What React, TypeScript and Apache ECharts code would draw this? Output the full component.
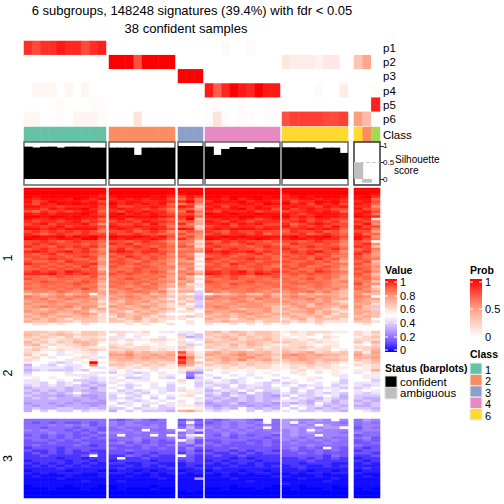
import React, { useEffect, useRef } from "react";
import * as echarts from "echarts";

const titleLines = ["6 subgroups, 148248 signatures (39.4%) with fdr < 0.05", "38 confident samples"];
const groupSizes = [10, 8, 3, 9, 8, 3];
const sliceNames = ["1", "2", "3"];
const probNames = ["p1", "p2", "p3", "p4", "p5", "p6"];
const classColors: Record<string, string> = { "1": "#66C2A5", "2": "#FC8D62", "3": "#8DA0CB", "4": "#E78AC3", "5": "#A6D854", "6": "#FFD92F" };
const sampleClasses = [
  [1,1,1,1,1,1,1,1,1,1],
  [2,2,2,2,2,2,2,2],
  [3,3,3],
  [4,4,4,4,4,4,4,4,4],
  [6,6,6,6,6,6,6,6],
  [6,2,5],
];
const silhouette = [
  [0.98,0.95,0.98,0.98,0.95,0.98,0.98,0.98,0.95,0.95],
  [0.95,0.95,0.95,0.73,0.95,0.95,0.95,0.95],
  [1,1,1],
  [0.98,0.73,0.91,0.97,0.97,0.91,0.96,0.96,0.96],
  [0.96,0.96,0.96,0.96,0.92,0.95,0.95,0.79],
  [0.5,-0.11,0],
];
const prob1 = [[.85,.77,.85,.85,.92,.87,.87,.77,.85,.9],[0,0,0,0,0,0,0,0],[0,0,0],[0,0,.03,0,0,.03,0,0,0],[0,0,0,0,0,0,0,0],[0,0,0]];
const prob2 = [[0,0,0,0,0,0,0,0,0,0],[1,1,1,.75,1,1,1,1],[0,0,0],[0,0,0,0,0,0,0,0,0],[.13,.1,.1,.1,.06,.12,.12,0],[.3,.45,0]];
const prob3 = [[0,0,0,0,0,0,0,0,0,0],[0,0,0,0,0,0,0,0],[1,1,1],[0,0,0,0,0,0,0,0,0],[0,0,0,0,0,0,0,0],[0,0,0]];
const prob4 = [[0,.05,.05,.05,0,.05,0,.05,0,0],[0,0,0,0,0,0,0,0],[0,0,0],[.92,.7,.88,1,.92,.88,1,.92,.92],[0,0,0,0,.03,0,0,.1],[0,0,.02]];
const prob5 = [[0,0,0,0,.02,0,0,0,.02,.02],[0,0,0,0,0,0,0,0],[0,0,0],[.02,.02,0,0,.02,0,0,.02,.02],[0,0,0,0,0,0,0,0],[0,0,.9]];
const prob6 = [[.05,.05,0,0,.02,0,.05,.05,.05,.02],[0,0,0,.15,0,0,0,0],[0,0,0],[.02,.15,.02,0,.02,.02,0,.02,.02],[.75,.8,.8,.8,.8,.77,.77,.8],[.5,.35,0]];
const probRows = [prob1, prob2, prob3, prob4, prob5, prob6];

// Each letter below is a level; these tables give the Value read for each level, slice by slice.
const levelChars = "0123456789ABCDEFGHIJK";
const sliceOneLevels = [0,.05,.1,.15,.2,.25,.3,.35,.4,.45,.5,.58,.66,.73,.78,.83,.87,.91,.95,.98,1];
const sliceTwoLevels = [0,.05,.1,.15,.2,.22,.27,.32,.38,.44,.5,.55,.6,.65,.7,.75,.8,.85,.9,.95,1];
const sliceThreeLevels = [0,.02,.05,.09,.14,.19,.23,.28,.36,.44,.5,.55,.6,.65,.7,.75,.8,.85,.9,.95,1];
const sliceOneRows = [
  "KKKKKKKKKK KKKKKKKK KKK KKKKKKKKK KKKKKKKK KKK",
  "KKKKKKKKKK KKKKKKKK KKK KKKKKKKKK KKKKKKKK KKK",
  "KKKKKKKKKJ KKKKKKKJ JKK KKKKKKKKK JKKKKKKK KKJ",
  "KJKKKKKKJI JKKKKJKI HJI KKJKKKKJK IJKJKKKJ JKI",
  "JIJJJIKJIJ IJIJIJJH GIF JJIKIJKJJ IIJJIJJI JJG",
  "JHIKJJJIJH JIJJIIJI IKG IKJJKIJJI JHIIKJKI IJH",
  "IHJIKJKJJI KIJIJIJG FHE JIIIJJIKJ KIJHJIJH JIG",
  "JJIIHIIIJH JHHIIJIH JIC IJHJIIJII IJIIHJIJ IIE",
  "IIHJIJJKIH IJIIHIHF HGD JIIJKIJJH JHIJIIHH JHG",
  "HGIHIHIJJG IHJIJIIG GJF IHJIIJHII HIIJIJIG IJH",
  "JIJIJJJKIH JKIJIJIH HHE KJJKJJKJJ JIHIJJJI JIF",
  "KKJKKJKJJI KJKJJKJI IJG JKJJKKJJK KIJIKJJI KJI",
  "JIIJIJJIIG IJHIIIHG HKC IIJIJIHIJ IHIHIIHH HIB",
  "IHIIHIJHIH HIIHJIIH GHD JIHJIHIII HIJHIHIG IHF",
  "HIJHIIIJHE IHHIHJHG IFD IIJHJIJHH IGHIJIHH HJE",
  "IIHIJHIIIH JIIJIIIF GGB HIIHIIHII JHIHIHJH JHH",
  "JJIJIJJJJG IJIHIJIH JIC IJIJJJIJI HIIJIJIG IIF",
  "HIHIHIHIHF HHIGHIHE FHF IHGIHHIHH GIHHIGHF HHD",
  "IHGHIHHIHH IHHIHHGG HFE HIHIIHIGH HHIGHIHG IGG",
  "JKJJKIKJKI KJJKJIJH GHE JJKJKJJJJ JKIJJKIH JIE",
  "KJJIJJIKKH JIJIIJIG IGD KJIJIJKJI IJJIJIIG JHF",
  "HHIHGHIHHG HHGHIHGE FFB HGIHIHHGH HHGHIHHF HGA",
  "HIHIHHHGHF IHIGHHHF GEC IHHGHIHHG GIHHGHGE HIE",
  "IHHGIHIHIG GHHIHGHG HGB HIHHHGHIH HGHIHHHF IHC",
  "GHIHHGHIGE HIGHHIGF EFD IGHIHHGHH IHGHGHIG GHF",
  "IJIHIJHIHF IJIHIIHG GGE JIJIIJHIH HIHIJHHE HIE",
  "HGHIGHHHGF GHHGHGHE FEA HHIHGHIGH GHHIGHGF IGD",
  "HHGHHGHIHE HGIHGHGF GFB GHHGHHGHG HGHGHHFF HFE",
  "GHHIHHGGHD GHGHGHGE EGA IHGHHIHHG GHHGIGHE HGF",
  "HGGHGIHHGE HHGFHGFE EDB HGHGHHGHH HGGHGHFD GHC",
  "IHHGHGHHIE GHGHGFGD FFA GHGIHGHHG GGHHGFGF HFD",
  "GHGHGHGIGD HGFGHGFF EEB HHGHGHHGF HGHFGHGE GGE",
  "GGHGHGHGHC GFGHGGFE DFA HGHHGGHGH GHFGHGFD HGD",
  "HIHIHJIHHE GHGHGHGD FEC IIHIJHIHI HGHGIHGF GHE",
  "IIIJHIHIHF HGHGFGFE EGD JIHIIHJIH GHGHGGFE HFC",
  "GGFGHGGFHD GFGFGFGD ECA GHGHGFGGH FGFGFGFD GGD",
  "HGGFGGFGGE FGHGFGED FDB GFGHGGGFG GFGHFGED FGE",
  "FGHGGFGHGD GGFGGFFE DEA HGGFGHGGF GGFGGFEF GFC",
  "GFGGFGHGFC FGFGEGEC EBB GGFHGGFGG FGGFGFED HEE",
  "FFGFGFGFGD GFEFGFED DC9 FGFGFFGFG GFEFGFEE FFB",
  "GFFGFGFHFC EFGEFFDB CCA FFGFFGFFE FGFEFEFD GEC",
  "EFFEGFEFFD FEFGFEFC DD8 GFEFFGFEF EFFGEFDC EFD",
  "CDCDECDEAD EDEDECDB BA8 ACCDECCEC DECDCDDC ECC",
  "FEDEFEFFDC DEFEDEDC CC7 EFEEFEEFD EFEDEEDC FEA",
  "EEFDEFEEEC EDEEDDC9 CB7 FEEFEDFEE DEEFDEDD EDD",
  "DEEFEDDEDB DCEDECDC BC8 DEDEFEDEE EDDEDECB EDC",
  "EDDEDEEDDC CDEDCDCB CA8 EDEEDEEDD DEDCEDDC DDB",
  "DEFEEFDEEB EDCDEDCB BB7 EFEDEEEDC CDECDDCD ECC",
  "DDCDEDCECD CDDCDCDC AC9 DEEDCDDEC DCDEDCBC DC8",
  "EDDEDDEDBC DCBDCDCB BBA EDDEEDDEC CDDECDCB DDC",
  "CDEDCCDEDB CDCCDCBA AAB DCDCDEDCD DCCDCDBC DCC",
  "DCDCDDCDCB BDCDCBCB BCB CDDCDCDDC CDCCDBCC CDC",
  "CDCDCBCCCB CBCDBCBB BAA DCCBCDCCC BCDBCCCB DCA",
  "DCCDCCBCCB CCBCBCBA ABA CCDCCCBCC CBCBCBBB CCB",
  "ABBABAABAA AABABAAB A9A BAABABABA BAAABAAA ABA",
  "AAAAAAAAAA AAAAAAAA AAA AAAAAAAAA AAAAAAAA AAA",
];
const sliceTwoRows = [
  "DDDCDCBDDC CC9BCAB9 B9A DECEDCDDC BCBCCCBB CBD",
  "EDCDEDCDDC ACABBAAA 898 DCDCECDDC ABBCABAA CBC",
  "DCDCBDBCCB 99A9AA9A C78 CDEDCDCDC BABAACBA BCD",
  "CDCBCCDCDC CBCBBCCB BA9 DCDECDDEC CCBCBBAA CCC",
  "ECDBDCEEDB BABAABBA CBA EDDCDEDCD DCCBCBBA DBE",
  "DEBCBCCEDA CBCABABA 989 CDCECEDCB BCCBABBA BAC",
  "BCCABBCCBB DCBCCBBB DCA DCCDCDCBC CCDCBCBA CCD",
  "CDBBCBBCDC CCDCCBCB CBA BCDCCBDCC DCCBCCAB BCE",
  "CBAA9ABBCA EDFDEDDE IDB EFDEFEDEC EDEFCDCD EBF",
  "DBCA9BAB9A FFGEEFEF GEB FEEFGEFED FGFEFEED FDE",
  "BCA9AABCB9 EEFEFEFE KGC DEFEFGEEC FEFEEDDC EEF",
  "CBAAA9BACA DEEDEDDE IFA EDFEGDEFD DEFEDEED DCE",
  "BAA989ABKB CDCDCDCC JFD CDEDCDCDC CDDECDCB BCD",
  "7A98A99AGA DDCBDCDB GEB DCCDCDCCB BCCDCCBA CBC",
  "8999989AB9 BCBCBCBB CB9 BBCBCBCCB BCBCBCBB ABC",
  "78988898AA 9A9AA9AA BC8 CABBABAAB ABCABABA BBE",
  "8AAAA9AA99 8A989A9A 956 AA9AABABA A9BA9ABA 9A9",
  "9AAAAB999A AB9A9AB9 A59 9AA9A9AA9 AABAAAB9 ABB",
  "ABABAAA989 9A889A98 A38 A8AA9A9AA 9AAB9AA9 AB9",
  "99AA9A8889 B9AB9AAA CA9 9A989AAA8 ABA9AAA8 AA8",
  "998A89A878 9A9AABA9 BA8 89989A989 89AA9A98 999",
  "8989898787 A989A9A8 AA8 988A8998A 9A899A89 989",
  "7888878868 9A8AA998 9A9 8A8989889 A89A8998 89A",
  "8787878778 A8989A98 CBB 7898A8A88 A8A89A9A 9AB",
  "787878A877 99898A9A AB9 89787A878 98989898 989",
  "8777678667 8A98A9A9 BCA 787987876 8A889A97 888",
  "7878777767 8989A8A8 AA9 878787877 A8987987 877",
  "7777776776 9A989A9A 9AB 787787878 99878978 787",
  "6776767666 A89A99A9 BA8 677867776 8787A878 878",
  "7677677767 9A9A8A89 BB9 767776767 8A989787 778",
  "7877887787 88A89988 AAB 8787A8787 A8A87878 887",
  "7A8A88A899 7A8A8887 EFC 989AA8A89 9A889887 A98",
  "AAAAAAAAAA AAAAAAAA AAA AAAAAAAAA AAAAAAAA AAA",
];
const sliceThreeRows = [
  "5555555555 5456545A 464 5456654A5 776676A6 576",
  "5454544545 6565555A 5A5 4565656A5 7A676665 565",
  "5556565645 6566565A 474 556566565 7676A766 566",
  "5545554554 5655665A 585 6565656A5 7767677A 465",
  "6565545454 5565A556 A78 565656565 676A7666 566",
  "5556554546 66565655 574 556565556 67676665 655",
  "4545454454 5A555A5A 69A 546454554 6766A666 455",
  "5545454545 55565556 586 555455545 66565655 564",
  "4554545444 45564545 A74 445554454 65656565 454",
  "4445444544 56454544 574 545445454 56555655 445",
  "4544445434 44545545 546 454444454 55565555 544",
  "3444344444 54445454 464 444544444 56454A54 434",
  "4334343433 44544444 453 344343443 45445454 344",
  "3434343343 44344344 354 433434344 44545444 443",
  "33433334A3 33543433 A43 343343333 44444354 334",
  "3333233233 3A334333 443 333232333 33434343 233",
  "2333323323 23333233 343 232333233 33343333 323",
  "3232323232 33223322 233 323232322 33233322 232",
  "2323232322 22323232 232 222322323 23322323 222",
  "2222322222 23222223 223 232222222 22322222 232",
  "1222212221 12212122 122 122212212 22212212 122",
  "2121222112 22121212 212 212121221 12122122 211",
  "1211121112 11211211 111 112111112 21112111 121",
  "1111211111 11111121 117 111211111 11211121 111",
  "1111111211 12111111 111 111112111 11111211 111",
  "1111111111 11111111 111 111111111 21111111 111",
  "0111101110 01111011 111 111011110 11011101 111",
  "0001000100 01000100 111 001000100 01000100 010",
  "0000000000 00000000 010 000000000 00000000 000",
  "0000000000 00000000 000 000000000 00000000 000",
  "0000000000 00000000 000 000000000 00000000 000",
];
const slices = [sliceOneRows, sliceTwoRows, sliceThreeRows];
const sliceLevels = [sliceOneLevels, sliceTwoLevels, sliceThreeLevels];

const valueTicks = ["1", "0.8", "0.6", "0.4", "0.2", "0"];
const probTicks = ["1", "0.5", "0"];
const legendClasses = ["1", "2", "3", "4", "6"];
const statusNames = ["confident", "ambiguous"];

const FONT = "Liberation Sans";
const groupX = [[24, 106], [109, 175], [178, 203], [205, 280], [282, 348], [354, 380]];
const sliceY = [[188, 328], [331, 415], [419, 498]];
const valueStops = [[0,"#0000ff"],[.125,"#6a4bff"],[.25,"#a98aff"],[.375,"#d8c6ff"],[.5,"#ffffff"],[.625,"#ffcdbd"],[.75,"#ff9e81"],[.875,"#ff6545"],[1,"#ff0000"]] as [number,string][];

function buildOption() {
  const grid: any[] = [], xAxis: any[] = [], yAxis: any[] = [], series: any[] = [];
  const addGrid = (x: number[], y: number[], g: any = {}) => {
    grid.push({ left: x[0], width: x[1] - x[0], top: y[0], height: y[1] - y[0], ...g });
    return grid.length - 1;
  };
  const hiddenX = (i: number, data: any[]) => ({ type: "category", gridIndex: i, data, show: false });
  groupSizes.forEach((size, g) => {
    const cols = Array.from({ length: size }, (_, i) => i);
    // probability rows
    let i = addGrid(groupX[g], [41, 126]);
    xAxis.push(hiddenX(i, cols));
    yAxis.push({
      type: "category", gridIndex: i, data: probNames, inverse: true, position: "right",
      show: g === 5, axisLine: { show: false }, axisTick: { show: false },
      axisLabel: { color: "#000", fontFamily: FONT, fontSize: 11.5, margin: 3, interval: 0, padding: [2, 0, 0, 0] },
    });
    const probData: any[] = [];
    probRows.forEach((row, r) => row[g].forEach((v, c) => probData.push([c, r, v])));
    series.push({ type: "heatmap", xAxisIndex: i, yAxisIndex: i, data: probData, silent: true });
    // class strip
    i = addGrid(groupX[g], [127, 142]);
    xAxis.push(hiddenX(i, cols));
    yAxis.push({
      type: "category", gridIndex: i, data: ["Class"], position: "right",
      show: g === 5, axisLine: { show: false }, axisTick: { show: false },
      axisLabel: { color: "#000", fontFamily: FONT, fontSize: 11.5, margin: 3, interval: 0 },
    });
    series.push({
      type: "heatmap", xAxisIndex: i, yAxisIndex: i, silent: true,
      data: sampleClasses[g].map((k, c) => [c, 0, k]),
    });
    // silhouette bars
    i = addGrid(groupX[g], [142, 185], { show: true, borderColor: g === 5 ? "#333" : "#666", borderWidth: 1.5, backgroundColor: "#fff", z: 3 });
    xAxis.push(hiddenX(i, cols));
    yAxis.push({
      type: "value", gridIndex: i, min: -0.18, max: 1.12, position: "right", splitLine: { show: false },
      show: g === 5, axisLine: { show: false },
      axisTick: { show: true, length: 4, lineStyle: { color: "#333" }, customValues: [0, 0.5, 1] },
      axisLabel: { color: "#000", fontFamily: FONT, fontSize: 8, margin: 3, customValues: [0, 0.5, 1], formatter: (v: number) => String(v) },
    });
    const barColor = g === 5 ? "#bebebe" : "#000";
    series.push({
      type: "bar", xAxisIndex: i, yAxisIndex: i, barWidth: "112%", silent: true, z: 4,
      itemStyle: { color: barColor },
      data: silhouette[g],
      markLine: g === 5 ? { silent: true, symbol: "none", label: { show: false }, lineStyle: { color: "#ccc", type: "dashed", width: 1 }, data: [{ yAxis: 0.5 }] } : undefined,
    });
    // main heatmap slices
    slices.forEach((rows, s) => {
      const j = addGrid(groupX[g], sliceY[s]);
      xAxis.push(hiddenX(j, cols));
      yAxis.push({
        type: "category", gridIndex: j, inverse: true, data: rows.map((_, r) => r),
        show: g === 0, axisLine: { show: false }, axisTick: { show: false }, axisLabel: { show: false },
        name: sliceNames[s], nameLocation: "middle", nameRotate: 90, nameGap: 10,
        nameTextStyle: { color: "#000", fontFamily: FONT, fontSize: 12.5 },
      });
      const cells: number[][] = [];
      rows.forEach((row, r) => {
        const part = row.split(" ")[g];
        for (let c = 0; c < part.length; c++) cells.push([c, r, sliceLevels[s][levelChars.indexOf(part[c])]]);
      });
      series.push({ type: "heatmap", xAxisIndex: j, yAxisIndex: j, data: cells, silent: true });
    });
  });
  const mainIdx: number[] = [], probIdx: number[] = [], classIdx: number[] = [];
  series.forEach((s, k) => {
    const m = k % 6; // prob, class, bar, s1, s2, s3 per group
    if (m === 0) probIdx.push(k);
    else if (m === 1) classIdx.push(k);
    else if (m >= 3) mainIdx.push(k);
  });
  const label = (text: string, x: number, y: number, o: any = {}) => ({
    type: "text", x, y, silent: true,
    style: { text, fill: "#000", font: `${o.bold ? "bold " : ""}${o.size || 10}px "${FONT}"`, verticalAlign: "middle", align: "left" },
  });
  const graphic: any[] = [];
  const ticks = (x: number, ys: number[]) => ys.forEach(y => {
    graphic.push({ type: "line", silent: true, shape: { x1: x, y1: y, x2: x + 3, y2: y }, style: { stroke: "#fff", lineWidth: 1 } });
    graphic.push({ type: "line", silent: true, shape: { x1: x + 9, y1: y, x2: x + 12, y2: y }, style: { stroke: "#fff", lineWidth: 1 } });
  });
  graphic.push(label("Value", 385, 270, { bold: true, size: 10.5 }));
  graphic.push({
    type: "rect", silent: true, shape: { x: 385, y: 279, width: 12, height: 73 },
    style: { fill: new echarts.graphic.LinearGradient(0, 1, 0, 0, valueStops.map(([offset, color]) => ({ offset, color }))) },
  });
  const valueY = [282, 296, 309, 323, 337, 350];
  ticks(385, valueY);
  valueTicks.forEach((t, i) => graphic.push(label(t, 400, valueY[i], { size: 11 })));
  graphic.push(label("Prob", 470, 270, { bold: true, size: 10.5 }));
  graphic.push({
    type: "rect", silent: true, shape: { x: 470, y: 279, width: 12, height: 58 },
    style: { fill: new echarts.graphic.LinearGradient(0, 1, 0, 0, [{ offset: 0, color: "#ffffff" }, { offset: .5, color: "#ff9e81" }, { offset: 1, color: "#ff0000" }]) },
  });
  const probY = [282, 309, 337];
  ticks(470, probY.slice(0, 2));
  probTicks.forEach((t, i) => graphic.push(label(t, 485, probY[i], { size: 11 })));
  graphic.push(label("Class", 470, 354, { bold: true, size: 10.5 }));
  legendClasses.forEach((k, i) => {
    graphic.push({ type: "rect", silent: true, shape: { x: 470, y: 363 + i * 11.4, width: 12, height: 11.4 }, style: { fill: classColors[k], stroke: "#eee", lineWidth: 1 } });
    graphic.push(label(k, 485, 370 + i * 11.4, { size: 11 }));
  });
  graphic.push(label("Status (barplots)", 385, 368, { bold: true, size: 10.4 }));
  statusNames.forEach((n, i) => {
    graphic.push({ type: "rect", silent: true, shape: { x: 385, y: 376 + i * 11.4, width: 12, height: 11.4 }, style: { fill: i === 0 ? "#000" : "#bebebe", stroke: "#ddd", lineWidth: 1 } });
    graphic.push(label(n, 400, 382 + i * 11.4, { size: 11.5 }));
  });
  graphic.push(label("Silhouette", 395, 159, { size: 10 }));
  graphic.push(label("score", 394, 170, { size: 10 }));

  return {
    animation: false,
    backgroundColor: "#fff",
    title: [
      { text: titleLines[0], left: 192, top: 4, padding: 0, textAlign: "center", textStyle: { color: "#000", fontFamily: FONT, fontSize: 13, fontWeight: "normal" } },
      { text: titleLines[1], left: 186, top: 22, padding: 0, textAlign: "center", textStyle: { color: "#000", fontFamily: FONT, fontSize: 13, fontWeight: "normal" } },
    ],
    grid, xAxis, yAxis, series,
    visualMap: [
      { show: false, type: "continuous", min: 0, max: 1, seriesIndex: mainIdx, inRange: { color: valueStops.map(s => s[1]) } },
      { show: false, type: "continuous", min: 0, max: 1, seriesIndex: probIdx, inRange: { color: ["#ffffff", "#ff9e81", "#ff0000"] } },
      { show: false, type: "piecewise", seriesIndex: classIdx, pieces: [1, 2, 3, 4, 5, 6].map(v => ({ value: v, color: classColors[String(v)] })) },
    ],
    graphic,
  };
}

export default function App() {
  const ref = useRef<HTMLDivElement>(null);
  useEffect(() => {
    const chart = echarts.init(ref.current!, undefined, { renderer: "svg" });
    chart.setOption(buildOption());
    return () => chart.dispose();
  }, []);
  return <div ref={ref} style={{ position: "absolute", left: 0, top: 0, width: 504, height: 504 }} />;
}
